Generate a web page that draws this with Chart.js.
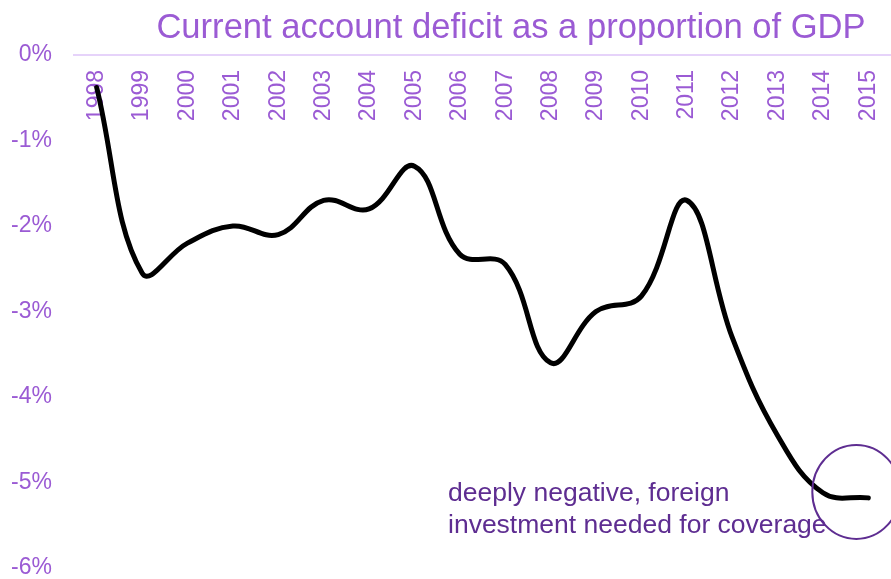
<!DOCTYPE html>
<html>
<head>
<meta charset="utf-8">
<script src="https://cdn.jsdelivr.net/npm/chart.js@4/dist/chart.umd.min.js"></script>
<style>
  html, body { margin: 0; padding: 0; background: #ffffff; }
  canvas { display: block; }
</style>
</head>
<body>
<canvas id="chart" width="891" height="579"></canvas>
<script>
// Current account balance, % of GDP
const years = ['1998','1999','2000','2001','2002','2003','2004','2005','2006',
               '2007','2008','2009','2010','2011','2012','2013','2014','2015'];
const balance = [-0.38, -2.55, -2.2, -2.0, -2.1, -1.7, -1.8, -1.3, -2.33,
                 -2.45, -3.6, -3.0, -2.82, -1.7, -3.3, -4.45, -5.12, -5.18];
const yTicks = [0, -1, -2, -3, -4, -5, -6];

const titleText = 'Current account deficit as a proportion of GDP';
const noteLines = ['deeply negative, foreign', 'investment needed for coverage'];

const FONT = '"Liberation Sans", Arial, sans-serif';
const PURPLE = '#9b5bd4';
const DARK_PURPLE = '#5e2d91';

// Title and the circled note near the latest year
const decorations = {
  id: 'decorations',
  afterDraw(chart) {
    const {ctx, chartArea, scales: {x, y}} = chart;
    ctx.save();
    ctx.fillStyle = PURPLE;
    ctx.font = '34.6px ' + FONT;
    ctx.textAlign = 'center';
    ctx.textBaseline = 'alphabetic';
    ctx.fillText(titleText, 511, 38);

    const last = balance.length - 1;
    const px = x.getPixelForValue(last);
    const py = y.getPixelForValue(balance[last]);
    ctx.strokeStyle = DARK_PURPLE;
    ctx.lineWidth = 2;
    ctx.beginPath();
    ctx.ellipse(px - 12, py - 6, 44, 47, 0, 0, Math.PI * 2);
    ctx.stroke();

    ctx.fillStyle = DARK_PURPLE;
    ctx.font = '26.5px ' + FONT;
    ctx.textAlign = 'left';
    ctx.textBaseline = 'middle';
    noteLines.forEach((t, i) => ctx.fillText(t, chartArea.left + 374, py - 4 + i * 32));
    ctx.restore();
  }
};

new Chart(document.getElementById('chart'), {
  type: 'line',
  data: {
    labels: years,
    datasets: [{
      data: balance,
      borderColor: '#000000',
      borderWidth: 5,
      borderCapStyle: 'round',
      borderJoinStyle: 'round',
      tension: 0.4,
      pointRadius: 0,
      pointHoverRadius: 0,
      fill: false
    }]
  },
  options: {
    responsive: false,
    animation: false,
    layout: { padding: { top: 55, bottom: 11, left: 0, right: 0 } },
    plugins: {
      legend: { display: false },
      title: { display: false },
      tooltip: { enabled: false }
    },
    scales: {
      x: {
        type: 'category',
        position: { y: 0 },
        offset: true,
        grid: { display: true, drawOnChartArea: false, drawTicks: false },
        border: { display: true, color: '#e6d3fa', width: 2 },
        afterFit(scale) { scale.paddingLeft = 0; scale.paddingRight = 0; },
        ticks: {
          color: PURPLE,
          font: { family: FONT, size: 23 },
          minRotation: 90,
          maxRotation: 90,
          autoSkip: false,
          padding: 15
        }
      },
      y: {
        min: -6,
        max: 0,
        grid: { display: false, drawTicks: false },
        border: { display: false },
        afterFit(scale) {
          scale.width = 74;
          scale.paddingTop = 0;
          scale.paddingBottom = 0;
        },
        afterBuildTicks(scale) { scale.ticks = yTicks.map(v => ({ value: v })); },
        ticks: {
          color: PURPLE,
          font: { family: FONT, size: 23 },
          padding: 22,
          callback: v => v + '%'
        }
      }
    }
  },
  plugins: [decorations]
});
</script>
</body>
</html>
